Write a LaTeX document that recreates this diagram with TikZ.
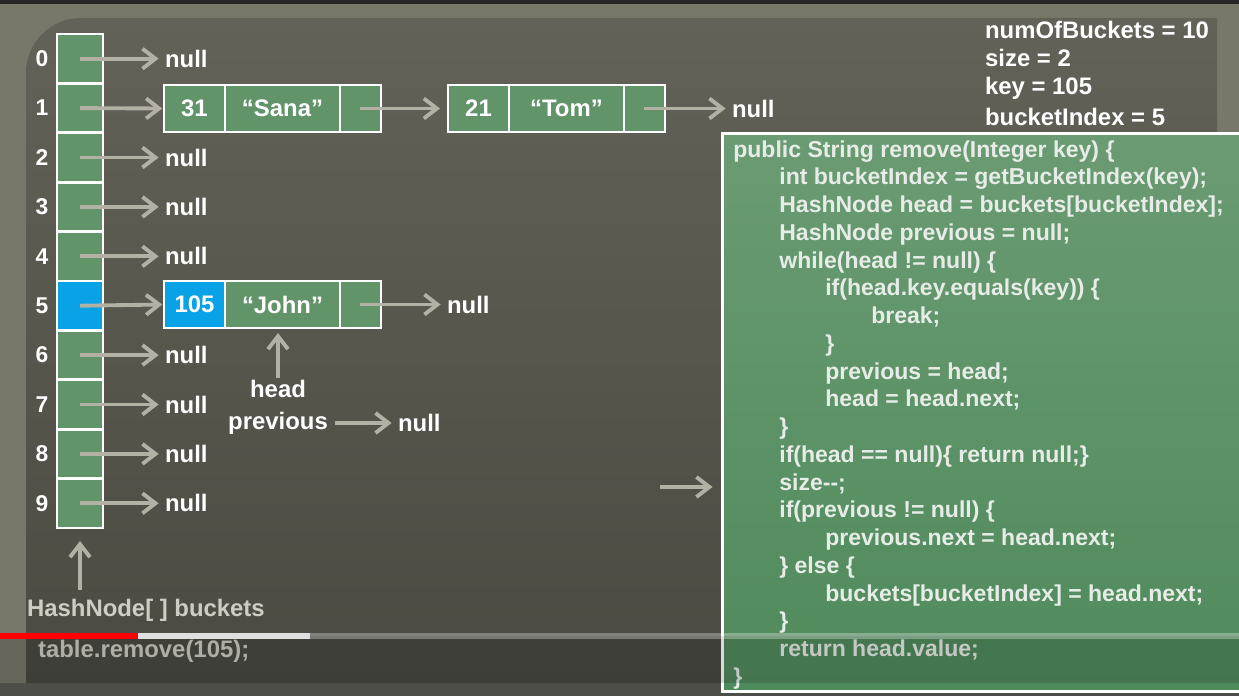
\documentclass[tikz,border=0pt]{standalone}
\usepackage{fontspec}
\setmainfont{Liberation Sans}
\usetikzlibrary{arrows.meta,positioning}
\definecolor{framebg}{HTML}{78786A}
\definecolor{slidetop}{HTML}{626258}
\definecolor{slidebot}{HTML}{4A4A42}
\definecolor{cellfill}{HTML}{629469}
\definecolor{keyblue}{HTML}{0AA2E6}
\definecolor{ptrgray}{HTML}{B3B0A4}
\definecolor{codetop}{HTML}{6B9B73}
\definecolor{codebot}{HTML}{4F8A5C}
\definecolor{codetext}{HTML}{E6ECE6}
\definecolor{dimtext}{HTML}{CDCDC5}
\newcommand{\codeindent}{\hspace*{0.92cm}}
\tikzset{
  bucket/.style={
    rectangle,
    draw=white,
    fill=cellfill,
    line width=1.6pt,
    minimum width=0.92cm,
    minimum height=0.988cm,
    inner sep=0pt,
    outer sep=0pt
  },
  idx/.style={font=\fontsize{13}{15}\selectfont\bfseries, text=white},
  keycell/.style={
    rectangle,
    draw=white,
    fill=cellfill,
    line width=1.6pt,
    minimum width=1.22cm,
    minimum height=0.94cm,
    inner sep=0pt,
    outer sep=0pt,
    font=\fontsize{13.6}{16}\selectfont\bfseries,
    text=white
  },
  valcell/.style={keycell, minimum width=2.3cm},
  nextcell/.style={keycell, minimum width=0.82cm},
  lbl/.style={font=\fontsize{13.6}{16}\selectfont\bfseries, text=white, inner sep=1pt},
  dimlbl/.style={lbl, text=dimtext},
  ptr/.style={
    -{Straight Barb[length=2.6mm,width=4mm]},
    draw=ptrgray,
    line width=2.2pt
  },
  codebox/.style={
    rectangle,
    draw=white,
    line width=1.7pt,
    top color=codetop,
    bottom color=codebot,
    minimum width=10.56cm,
    minimum height=11.18cm
  },
  codetxt/.style={
    align=left,
    inner sep=0pt,
    text=codetext,
    font=\fontsize{13.1}{15.8}\selectfont\bfseries
  }
}
\begin{document}
\begin{tikzpicture}[x=0.02cm,y=-0.02cm]
  \useasboundingbox (0,0) rectangle (1239,696);
  % Slide background.
  \path[fill=framebg] (0,0) rectangle (1239,696);
  \path[fill=black!85] (0,0) rectangle (1239,4);
  \path[top color=slidetop,bottom color=slidebot]
    (26,683) [rounded corners=1.1cm] -- (26,18) [sharp corners] -- (1217,18)
    -- (1217,683) -- cycle;
  \path[fill=black!80,opacity=0.6] (0,683) rectangle (1239,696);

  % Bucket array.
  \foreach \i in {0,...,9} {
    \node[bucket] (b\i) at (80,{58.7+49.4*\i}) {};
    \node[idx] at (42,{58.7+49.4*\i}) {\i};
  }
  \node[bucket,fill=keyblue] at (b5) {};

  % Empty buckets.
  \foreach \i in {0,2,3,4,6,7,8,9} {
    \node[lbl,anchor=west] (n\i) at (163,{58.7+49.4*\i}) {null};
    \draw[ptr,shorten >=2.5pt] (b\i.center) -- (n\i.west);
  }

  % Chain in bucket 1.
  \node[keycell] (k31) at (194.5,108.5) {31};
  \node[valcell,right=0pt of k31] (vsana) {“Sana”};
  \node[nextcell,right=0pt of vsana] (xsana) {};
  \node[keycell] (k21) at (478.5,108.5) {21};
  \node[valcell,right=0pt of k21] (vtom) {“Tom”};
  \node[nextcell,right=0pt of vtom] (xtom) {};
  \node[lbl,anchor=west] (tnull) at (730,108.5) {null};
  \draw[ptr,shorten >=1pt] (b1.center) -- (k31.west);
  \draw[ptr,shorten >=0.16cm] (xsana.center) -- (k21.west);
  \draw[ptr,shorten >=2.5pt] (xtom.center) -- (tnull.west);

  % Chain in bucket 5.
  \node[keycell,fill=keyblue] (k105) at (194.5,304.5) {105};
  \node[valcell,right=0pt of k105] (vjohn) {“John”};
  \node[nextcell,right=0pt of vjohn] (xjohn) {};
  \node[lbl,anchor=west] (jnull) at (445,304.5) {null};
  \draw[ptr,shorten >=1pt] (b5.center) -- (k105.west);
  \draw[ptr,shorten >=2.5pt] (xjohn.center) -- (jnull.west);

  % Local references.
  \node[lbl] (head) at (278,389) {head};
  \node[lbl] (prev) at (278,423) {previous};
  \node[lbl,anchor=west] (pnull) at (396,423) {null};
  \draw[ptr,shorten >=0.1cm] (head.north) -- (head.north |- vjohn.south);
  \draw[ptr,shorten <=3pt,shorten >=2.5pt] (prev.east) -- (pnull.west);

  \node[dimlbl,anchor=west] (hn) at (25,610) {HashNode[ ] buckets};
  \coordinate (hnup) at (80,590);
  \draw[ptr,shorten >=0.26cm] (hnup) -- (b9.south);
  \node[dimlbl,anchor=west] (call) at (36,651) {table.remove(105);};

  % Field values.
  \node[lbl,anchor=west] (v1) at (983,30) {numOfBuckets = 10};
  \node[lbl,anchor=west] (v2) at (983,58) {size = 2};
  \node[lbl,anchor=west] (v3) at (983,88) {key = 105};
  \node[lbl,anchor=west] (v4) at (983,117) {bucketIndex = 5};

  % Method source.
  \node[codebox] (src) at (986,412.5) {};
  \node[codetxt,anchor=north west] (code) at (733,140) {%
    public String remove(Integer key) \{\\
    \codeindent int bucketIndex = getBucketIndex(key);\\
    \codeindent HashNode head = buckets[bucketIndex];\\
    \codeindent HashNode previous = null;\\
    \codeindent while(head != null) \{\\
    \codeindent\codeindent if(head.key.equals(key)) \{\\
    \codeindent\codeindent\codeindent break;\\
    \codeindent\codeindent \}\\
    \codeindent\codeindent previous = head;\\
    \codeindent\codeindent head = head.next;\\
    \codeindent \}\\
    \codeindent if(head == null)\{ return null;\}\\
    \codeindent size-{}-;\\
    \codeindent if(previous != null) \{\\
    \codeindent\codeindent previous.next = head.next;\\
    \codeindent \} else \{\\
    \codeindent\codeindent buckets[bucketIndex] = head.next;\\
    \codeindent \}\\
    \codeindent return head.value;\\
    \}};
  \coordinate (cur) at (660,487);
  \draw[ptr,shorten >=0.16cm] (cur) -- (cur -| src.west);

  % Player overlay.
  \path[fill=black,opacity=0.15] (0,636) rectangle (1239,683);
  \draw[white,opacity=0.3,line width=3pt] (310,636) -- (1239,636);
  \draw[white!75!gray,line width=3pt] (138,636) -- (310,636);
  \draw[red,line width=3pt] (0,636) -- (138,636);
\end{tikzpicture}
\end{document}
